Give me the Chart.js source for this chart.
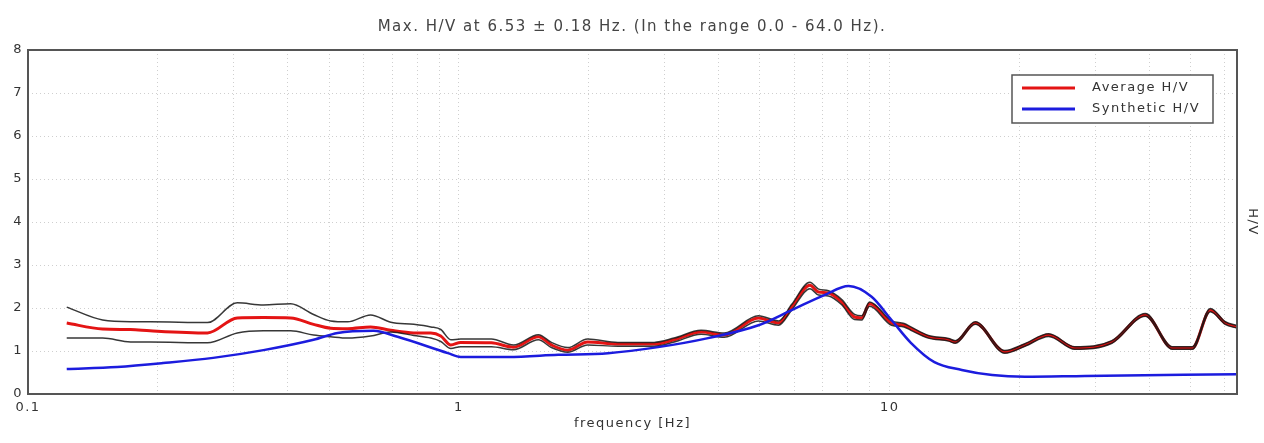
<!DOCTYPE html>
<html>
<head>
<meta charset="utf-8">
<script src="https://cdn.jsdelivr.net/npm/chart.js@4.4.1/dist/chart.umd.min.js"></script>
<style>
    html, body { margin: 0; padding: 0; background: #fff; }
    canvas { display: block; }
</style>
</head>
<body>
<canvas id="chart" width="1264" height="443"></canvas>
<script>
// frequencies (Hz) of the averaged H/V curve and its +/- std bands
const avgFreq = [0.123, 0.149, 0.173, 0.192, 0.261, 0.306, 0.352, 0.407, 0.460, 0.504,
    0.552, 0.624, 0.695, 0.786, 0.861, 0.908, 0.958, 1.01, 1.19, 1.34,
    1.53, 1.64, 1.79, 1.99, 2.34, 2.84, 3.16, 3.65, 4.13, 4.96,
    5.52, 5.92, 6.53, 6.84, 7.21, 7.73, 8.29, 8.61, 8.98, 10.1,
    10.8, 11.2, 12.3, 13.7, 14.2, 15.8, 18.5, 20.6, 23.4, 26.9,
    32.8, 39.2, 45.3, 50.4, 55.5, 60.1, 64];
const avgHV = [1.65, 1.51, 1.50, 1.47, 1.42, 1.77, 1.78, 1.77, 1.62, 1.53,
    1.52, 1.56, 1.48, 1.42, 1.42, 1.35, 1.14, 1.20, 1.19, 1.09,
    1.33, 1.14, 1.02, 1.21, 1.16, 1.16, 1.26, 1.44, 1.37, 1.77,
    1.65, 2.02, 2.53, 2.37, 2.35, 2.14, 1.79, 1.77, 2.10, 1.65,
    1.60, 1.52, 1.33, 1.26, 1.21, 1.65, 0.98, 1.14, 1.37, 1.07,
    1.21, 1.84, 1.07, 1.07, 1.95, 1.65, 1.56];
const upperHV = [2.02, 1.72, 1.68, 1.68, 1.66, 2.12, 2.07, 2.10, 1.85, 1.70,
    1.68, 1.84, 1.67, 1.62, 1.56, 1.50, 1.26, 1.28, 1.28, 1.14,
    1.38, 1.20, 1.08, 1.28, 1.20, 1.20, 1.30, 1.48, 1.42, 1.82,
    1.70, 2.08, 2.60, 2.44, 2.40, 2.20, 1.85, 1.82, 2.14, 1.70,
    1.64, 1.56, 1.36, 1.29, 1.24, 1.68, 1.01, 1.17, 1.40, 1.10,
    1.24, 1.87, 1.10, 1.10, 1.99, 1.68, 1.59];
const lowerHV = [1.30, 1.30, 1.21, 1.21, 1.19, 1.42, 1.47, 1.47, 1.37, 1.33,
    1.30, 1.35, 1.44, 1.36, 1.30, 1.22, 1.06, 1.10, 1.10, 1.03,
    1.26, 1.08, 0.97, 1.14, 1.11, 1.11, 1.21, 1.39, 1.32, 1.70,
    1.60, 1.95, 2.45, 2.30, 2.28, 2.08, 1.73, 1.72, 2.04, 1.60,
    1.56, 1.48, 1.30, 1.23, 1.18, 1.62, 0.95, 1.11, 1.34, 1.04,
    1.18, 1.81, 1.04, 1.04, 1.91, 1.62, 1.53];

const synthFreq = [0.123, 0.161, 0.206, 0.269, 0.352, 0.460, 0.523, 0.634, 0.721, 0.943,
    1.01, 1.30, 1.70, 2.22, 2.90, 3.79, 4.96, 5.92, 7.05, 8.03,
    9.08, 10.1, 11.2, 12.7, 14.7, 17.3, 20.6, 28.4, 64];
const synthHV = [0.58, 0.63, 0.72, 0.84, 1.02, 1.26, 1.42, 1.47, 1.33, 0.95,
    0.86, 0.86, 0.91, 0.95, 1.09, 1.30, 1.60, 1.95, 2.30, 2.51,
    2.26, 1.72, 1.19, 0.74, 0.56, 0.44, 0.40, 0.42, 0.46];

const gridFreqs = [0.1, 0.2, 0.3, 0.4, 0.5, 0.6, 0.7, 0.8, 0.9,
    1, 2, 3, 4, 5, 6, 7, 8, 9, 10, 20, 30, 40, 50, 60];
const labelledFreqs = [0.1, 1, 10];
const yTicks = [0, 1, 2, 3, 4, 5, 6, 7, 8];

const FONT = 'DejaVu Sans';
const TEXT = '#333';

const toPoints = (xs, ys) => xs.map((x, i) => ({x: x, y: ys[i]}));

const lineOptions = {
    pointRadius: 0,
    cubicInterpolationMode: 'monotone',
    fill: false
};

// wider text, the original picture is stretched sideways
const textSpacing = {
    id: 'textSpacing',
    beforeUpdate(chart) { chart.ctx.letterSpacing = '1.5px'; }
};

const plotFrame = {
    id: 'plotFrame',
    afterDraw(chart) {
        const {ctx, chartArea: a} = chart;
        ctx.save();
        ctx.strokeStyle = '#555';
        ctx.lineWidth = 2;
        ctx.strokeRect(a.left, a.top, a.right - a.left, a.bottom - a.top);
        ctx.restore();
    }
};

const boxLegend = {
    id: 'boxLegend',
    afterDraw(chart) {
        const {ctx, chartArea: a} = chart;
        const items = chart.data.datasets.filter(d => d.label);
        const right = a.right - 24, top = a.top + 25;
        const w = 201, h = 48;
        ctx.save();
        ctx.fillStyle = '#fff';
        ctx.fillRect(right - w, top, w, h);
        ctx.strokeStyle = '#555';
        ctx.lineWidth = 1.5;
        ctx.strokeRect(right - w, top, w, h);
        ctx.font = '13px "' + FONT + '"';
        ctx.textBaseline = 'middle';
        items.forEach((d, i) => {
            const y = top + 13 + i * 21;
            ctx.strokeStyle = d.borderColor;
            ctx.lineWidth = 3;
            ctx.beginPath();
            ctx.moveTo(right - w + 10, y);
            ctx.lineTo(right - w + 63, y);
            ctx.stroke();
            ctx.fillStyle = TEXT;
            ctx.fillText(d.label, right - w + 80, y);
        });
        ctx.restore();
    }
};

new Chart(document.getElementById('chart').getContext('2d'), {
    type: 'line',
    data: {
        datasets: [
            {
                ...lineOptions,
                label: 'Average H/V',
                data: toPoints(avgFreq, avgHV),
                borderColor: 'rgb(228, 20, 20)',
                borderWidth: 3,
                order: 4
            },
            {
                ...lineOptions,
                label: '',
                data: toPoints(avgFreq, upperHV),
                borderColor: 'rgba(20, 20, 20, 0.85)',
                borderWidth: 1.5,
                order: 3
            },
            {
                ...lineOptions,
                label: '',
                data: toPoints(avgFreq, lowerHV),
                borderColor: 'rgba(20, 20, 20, 0.85)',
                borderWidth: 1.5,
                order: 2
            },
            {
                ...lineOptions,
                label: 'Synthetic H/V',
                data: toPoints(synthFreq, synthHV),
                borderColor: 'rgb(28, 28, 222)',
                borderWidth: 2.5,
                order: 1
            }
        ]
    },
    plugins: [textSpacing, plotFrame, boxLegend],
    options: {
        responsive: false,
        animation: false,
        layout: { padding: 0 },
        plugins: {
            legend: { display: false },
            tooltip: { enabled: false },
            title: {
                display: true,
                text: 'Max. H/V at 6.53 ± 0.18 Hz. (In the range 0.0 - 64.0 Hz).',
                color: '#444',
                font: { family: FONT, size: 15, weight: 'normal' },
                padding: { top: 18, bottom: 14 }
            }
        },
        scales: {
            x: {
                type: 'logarithmic',
                min: 0.1,
                max: 64,
                afterBuildTicks: (scale) => {
                    scale.ticks = gridFreqs.map(v => ({value: v}));
                },
                afterFit: (scale) => { scale.height = 49; },
                ticks: {
                    autoSkip: false,
                    maxRotation: 0,
                    padding: 6,
                    color: TEXT,
                    font: { family: FONT, size: 13 },
                    callback: (v) => labelledFreqs.includes(v) ? String(v) : ''
                },
                grid: { color: '#cfcfcf', drawTicks: false },
                border: { display: false, dash: [1, 3] },
                title: {
                    display: true,
                    text: 'frequency [Hz]',
                    color: TEXT,
                    font: { family: FONT, size: 13 },
                    padding: { top: 0, bottom: 12 }
                }
            },
            y: {
                min: 0,
                max: 8,
                afterBuildTicks: (scale) => {
                    scale.ticks = yTicks.map(v => ({value: v}));
                },
                afterFit: (scale) => { scale.width = 28; },
                ticks: {
                    padding: 5,
                    color: TEXT,
                    font: { family: FONT, size: 13 }
                },
                grid: {
                    drawTicks: false,
                    color: (c) => (c.tick.value === 0 || c.tick.value === 8) ? 'rgba(0,0,0,0)' : '#cfcfcf'
                },
                border: { display: false, dash: [1, 3] }
            },
            y2: {
                position: 'right',
                min: 0,
                max: 8,
                afterFit: (scale) => { scale.width = 27; },
                ticks: { display: false },
                grid: { display: false },
                border: { display: false },
                title: {
                    display: true,
                    text: 'H/V',
                    color: TEXT,
                    font: { family: FONT, size: 13 },
                    padding: { top: 4, bottom: 0 }
                }
            }
        }
    }
});
</script>
</body>
</html>
